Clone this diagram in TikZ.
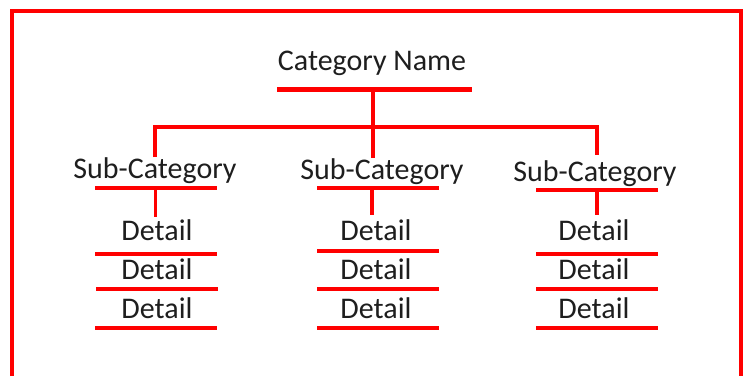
\documentclass[tikz,border=0pt]{standalone}
\usepackage{fontspec}
\setmainfont{Carlito}

\begin{document}
\begin{tikzpicture}[x=0.75pt,y=-0.75pt,
    txt/.style={anchor=base,inner sep=0pt,text=hltext,font=\fontsize{22.5}{27}\selectfont},
    bar/.style={shape=rectangle,fill=hlred,inner sep=0pt,minimum width=91.5pt,minimum height=2.6pt},
    link/.style={draw=hlred,line width=2.6pt}]
    \definecolor{hlred}{RGB}{255,0,0}
    \definecolor{hltext}{RGB}{30,30,30}
    \useasboundingbox (0,0) rectangle (747,376);
    \draw[hlred,line width=3.4pt] (12,376) -- (12,11) -- (741,11) -- (741,376);
    \node[txt] (cat) at (372,70) {Category Name};
    \node[bar,minimum width=146.25pt,minimum height=3.75pt] (catbar) at (374.5,89) {};
    \node[txt] (sub1) at (155,178) {Sub-Category};
    \node[bar] (sub1bar) at (155.5,188) {};
    \node[txt] (sub2) at (382,179) {Sub-Category};
    \node[bar] (sub2bar) at (378,188) {};
    \node[txt] (sub3) at (595,181) {Sub-Category};
    \node[bar] (sub3bar) at (597,190) {};
    \node[txt] (det11) at (157,240) {Detail};
    \node[bar] (det11bar) at (155.5,254) {};
    \node[txt] (det12) at (157,279) {Detail};
    \node[bar] (det12bar) at (156.5,289) {};
    \node[txt] (det13) at (157,318) {Detail};
    \node[bar] (det13bar) at (155.5,328) {};
    \node[txt] (det21) at (376,240) {Detail};
    \node[bar] (det21bar) at (378,251) {};
    \node[txt] (det22) at (376,279) {Detail};
    \node[bar] (det22bar) at (378,289) {};
    \node[txt] (det23) at (376,318) {Detail};
    \node[bar] (det23bar) at (378,328) {};
    \node[txt] (det31) at (594,240) {Detail};
    \node[bar] (det31bar) at (597,254) {};
    \node[txt] (det32) at (594,279) {Detail};
    \node[bar] (det32bar) at (597,289) {};
    \node[txt] (det33) at (594,318) {Detail};
    \node[bar] (det33bar) at (597,328) {};
    \coordinate (fork) at (373,127);
    \coordinate (top1) at (155,157);
    \coordinate (top2) at (373,158);
    \coordinate (top3) at (597,155);
    \coordinate (low1) at (155.5,217);
    \coordinate (low2) at (372,215);
    \coordinate (low3) at (597,215);
    \draw[link] (top2 |- catbar.center) -- (top2);
    \draw[link] (top1) |- (fork) -| (top3);
    \draw[link] (sub1bar.center) -- (low1);
    \draw[link] (low2 |- sub2bar.center) -- (low2);
    \draw[link] (sub3bar.center) -- (low3);
\end{tikzpicture}
\end{document}
